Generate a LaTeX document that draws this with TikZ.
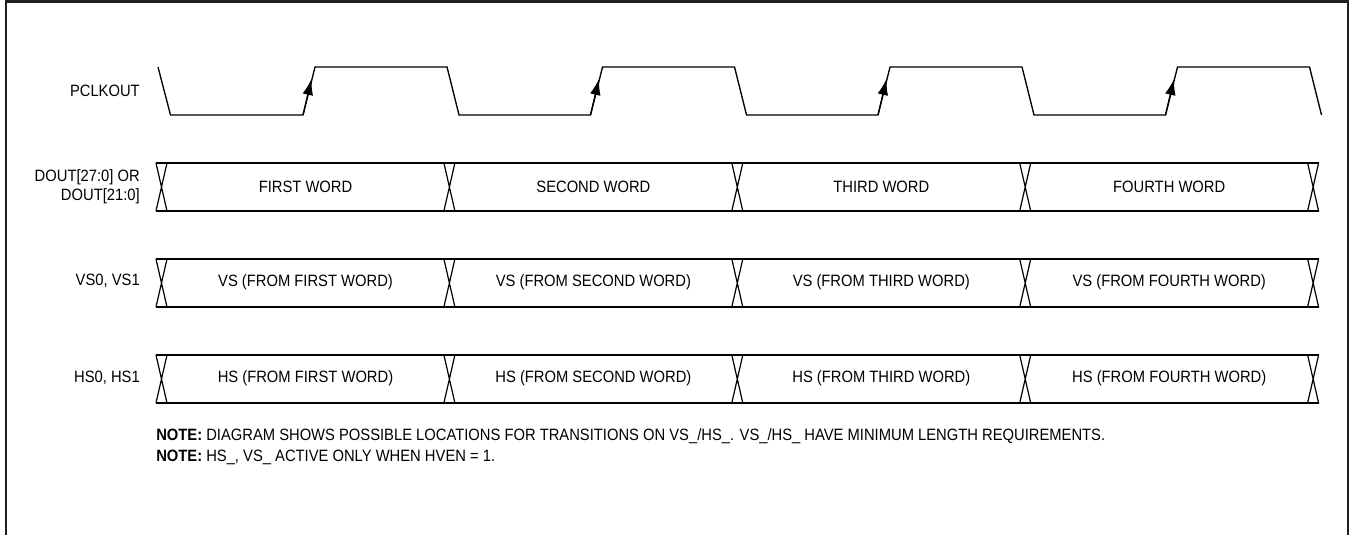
\documentclass[tikz,border=0pt]{standalone}
\usepackage{fontspec}
\setmainfont{Liberation Sans}[FakeStretch=0.9]
\usetikzlibrary{arrows.meta}
\definecolor{framegray}{HTML}{231F20}

\begin{document}
\begin{tikzpicture}[x=0.75pt, y=-0.75pt, font=\fontsize{12.3}{14.3}\selectfont,
		wave/.style={line width=1pt, line join=miter},
		bus/.style={line width=0.9pt},
		sig/.style={anchor=east, align=right, inner sep=0pt},
		note/.style={anchor=west, inner sep=0pt}]
		\useasboundingbox (0,0) rectangle (1351,535);
		\draw[line width=1.6pt, framegray] (6,535) -- (6,1.5) -- (1348,1.5) -- (1348,535);
		% clock
		\coordinate (clk) at (158,67);
		\draw[wave] (clk) -- (170.5,115)
			\foreach \k in {0,...,3}{ -- ({303+287.5*\k},115) -- ({315+287.5*\k},67) -- ({447+287.5*\k},67) -- ({459+287.5*\k},115) };
		\foreach \k in {0,...,3}
			\draw[wave, -{Latex[length=12pt,width=8pt]}] ({303+287.5*\k},115) -- ({311.5+287.5*\k},79);
		% buses
		\foreach \y in {163, 259, 355}{
			\draw[bus] (156,\y) -- (1319,\y) (156,\y+48) -- (1319,\y+48);
			\foreach \k in {0,...,4}
				\draw[bus] ({156+287.9*\k},\y) -- ({167+287.9*\k},\y+48) ({167+287.9*\k},\y) -- ({156+287.9*\k},\y+48);
		}
		\foreach \k/\w in {0/FIRST, 1/SECOND, 2/THIRD, 3/FOURTH}{
			\node (dw\k) at ({305.5+287.9*\k},187) {\w{} WORD};
			\node (vw\k) at ({305.5+287.9*\k},282.5) {VS (FROM \w{} WORD)};
			\node (hw\k) at ({305.5+287.9*\k},378.5) {HS (FROM \w{} WORD)};
		}
		% signal names
		\node[sig] (pclk) at (140,91) {PCLKOUT};
		\node[sig] (dout) at (140,187) {DOUT[27:0] OR\\DOUT[21:0]};
		\node[sig] (vs) at (140,281) {VS0, VS1};
		\node[sig] (hs) at (140,378) {HS0, HS1};
		% notes
		\node[note] (note1) at (156,436) {\textbf{NOTE:} DIAGRAM SHOWS POSSIBLE LOCATIONS FOR TRANSITIONS ON VS\_/HS\_. VS\_/HS\_ HAVE MINIMUM LENGTH REQUIREMENTS.};
		\node[note] (note2) at (156,457) {\textbf{NOTE:} HS\_, VS\_ ACTIVE ONLY WHEN HVEN = 1.};
	\end{tikzpicture}
\end{document}
